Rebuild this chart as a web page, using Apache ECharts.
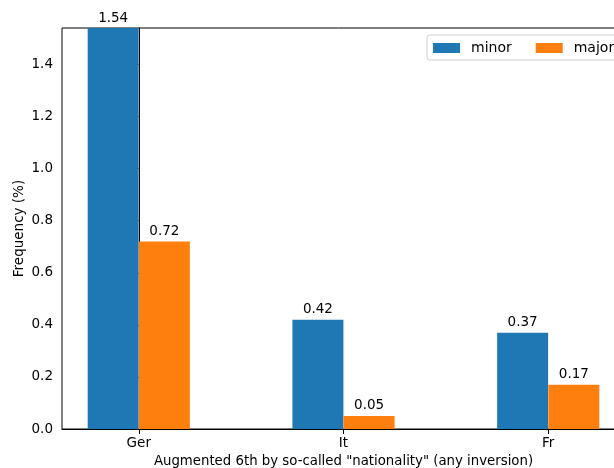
<!DOCTYPE html>
<html>
<head>
<meta charset="utf-8">
<script src="https://cdn.jsdelivr.net/npm/echarts@6/dist/echarts.min.js"></script>
<style>
  html, body { margin: 0; padding: 0; background: #fff; }
  #chart { width: 614px; height: 468px; }
</style>
</head>
<body>
<div id="chart"></div>
<script>
// categories and values
var categories = ['Ger', 'It', 'Fr'];
var minorValues = [1.54, 0.42, 0.37];
var majorValues = [0.72, 0.05, 0.17];
var yTicks = [0, 0.2, 0.4, 0.6, 0.8, 1.0, 1.2, 1.4];
var catPos = [0, 1, 2];

var barW = 0.25;
var font = 'DejaVu Sans';

function toPoints(vals, shift) {
  return vals.map(function (v, i) { return [catPos[i] + shift, v]; });
}

var chart = echarts.init(document.getElementById('chart'));
var option = {
  backgroundColor: '#fff',
  animation: false,
  textStyle: { fontFamily: font },
  grid: {
    left: 62,
    top: 28,
    width: 563,
    height: 401,
    outerBoundsMode: 'none',
    containLabel: false,
    show: true,
    borderColor: '#000',
    borderWidth: 1,
    backgroundColor: 'transparent'
  },
  legend: {
    orient: 'horizontal',
    left: 427,
    top: 35,
    width: 300,
    padding: [6, 8, 5, 6],
    icon: 'rect',
    itemWidth: 27,
    itemHeight: 10,
    itemGap: 24,
    borderColor: '#d0d0d0',
    borderWidth: 1,
    borderRadius: 3,
    backgroundColor: '#fff',
    textStyle: { fontFamily: font, fontSize: 14, color: '#000', padding: [0, 0, 0, 6] },
    data: ['minor', 'major']
  },
  xAxis: {
    type: 'value',
    min: -0.375,
    max: 2.375,
    name: 'Augmented 6th by so-called "nationality" (any inversion)',
    nameLocation: 'middle',
    nameGap: 25,
    nameTextStyle: { fontFamily: font, fontSize: 13.3, color: '#000' },
    axisLine: { show: true, onZero: false, lineStyle: { color: '#000', width: 1 } },
    axisTick: { show: true, length: 5, customValues: catPos, lineStyle: { color: '#000' } },
    axisLabel: {
      customValues: catPos,
      margin: 7,
      fontFamily: font,
      fontSize: 13.5,
      color: '#000',
      formatter: function (v) { return categories[Math.round(v)]; }
    },
    splitLine: { show: false }
  },
  yAxis: {
    type: 'value',
    min: 0,
    max: 1.54,
    name: 'Frequency (%)',
    nameLocation: 'middle',
    nameGap: 36,
    nameMoveOverlap: false,
    nameRotate: 90,
    nameTextStyle: { fontFamily: font, fontSize: 13.5, color: '#000' },
    axisLine: { show: true, lineStyle: { color: '#000', width: 1 } },
    axisTick: { show: true, length: 5, customValues: yTicks, lineStyle: { color: '#000' } },
    axisLabel: {
      customValues: yTicks,
      margin: 9,
      fontFamily: font,
      fontSize: 13.5,
      color: '#000',
      formatter: function (v) { return v.toFixed(1); }
    },
    splitLine: { show: false }
  },
  series: [
    {
      name: 'minor',
      type: 'bar',
      barWidth: 51,
      barGap: '-100%',
      itemStyle: { color: '#1f77b4' },
      label: {
        show: true,
        position: 'top',
        distance: 3,
        fontFamily: font,
        fontSize: 13.5,
        color: '#000',
        formatter: function (p) { return p.value[1].toFixed(2); }
      },
      data: toPoints(minorValues, -barW / 2)
    },
    {
      name: 'major',
      type: 'bar',
      barWidth: 51,
      barGap: '-100%',
      itemStyle: { color: '#ff7f0e' },
      label: {
        show: true,
        position: 'top',
        distance: 3,
        fontFamily: font,
        fontSize: 13.5,
        color: '#000',
        formatter: function (p) { return p.value[1].toFixed(2); }
      },
      data: toPoints(majorValues, barW / 2)
    }
  ]
};
chart.setOption(option);
</script>
</body>
</html>
